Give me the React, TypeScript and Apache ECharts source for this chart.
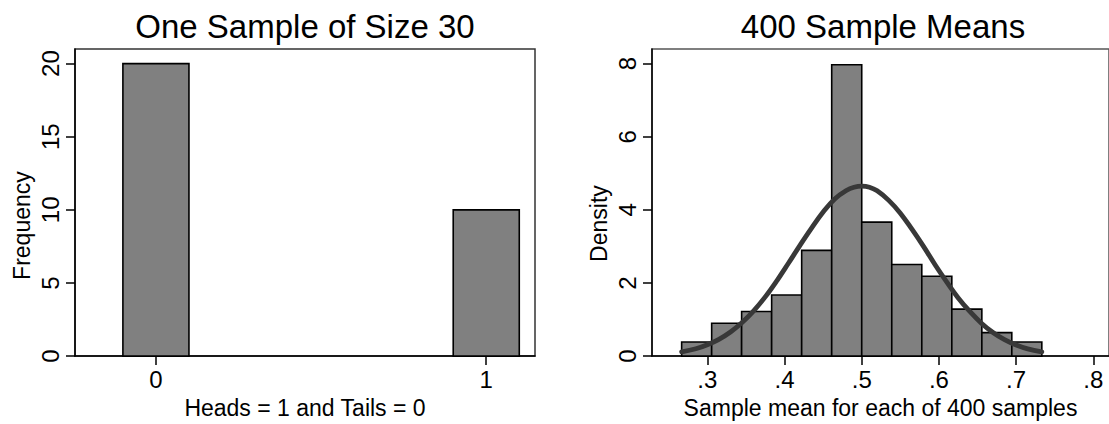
import React, { useEffect, useRef } from "react";
import * as echarts from "echarts";

// Left panel: one sample of size 30
const coinValues = [0, 1];
const coinFreq = [20, 10];
const coinHalfWidth = 0.1;
const leftYTicks = [0, 5, 10, 15, 20];
const leftXTicks = [0, 1];

// Right panel: 400 sample means (density histogram)
const binEdges = [0.2667, 0.3056, 0.3444, 0.3833, 0.4222, 0.4611, 0.5, 0.5389, 0.5778, 0.6167, 0.6556, 0.6944, 0.7333];
const binDensity = [0.386, 0.9, 1.221, 1.671, 2.893, 7.971, 3.664, 2.507, 2.186, 1.286, 0.643, 0.386];
const rightYTicks = [0, 2, 4, 6, 8];
const rightXTicks = [0.3, 0.4, 0.5, 0.6, 0.7, 0.8];

// Normal curve points
const curveX = [0.2667, 0.285, 0.3, 0.315, 0.33, 0.345, 0.36, 0.375, 0.39, 0.405, 0.42, 0.435, 0.45, 0.465, 0.48, 0.49, 0.5, 0.51, 0.52, 0.535, 0.55, 0.565, 0.58, 0.595, 0.61, 0.625, 0.64, 0.655, 0.67, 0.685, 0.7, 0.715, 0.7333];
const curveY = [0.117, 0.2, 0.312, 0.46, 0.661, 0.92, 1.24, 1.62, 2.06, 2.54, 3.03, 3.5, 3.94, 4.3, 4.53, 4.62, 4.65, 4.62, 4.52, 4.26, 3.91, 3.47, 3.0, 2.5, 2.03, 1.59, 1.22, 0.9, 0.646, 0.45, 0.303, 0.196, 0.114];

const FONT = "Liberation Sans, Arial, sans-serif";

export default function App() {
  const ref = useRef<HTMLDivElement>(null);
  useEffect(() => {
    if (!ref.current) return;
    const chart = echarts.init(ref.current, null, { renderer: "svg" });

    const leftBars = coinValues.map((v, i) => [v - coinHalfWidth, v + coinHalfWidth, coinFreq[i]]);
    const rightBars = binDensity.map((d, i) => [binEdges[i], binEdges[i + 1], d]);
    const curve = curveX.map((x, i) => [x, curveY[i]]);

    const renderRect = (params: any, api: any) => {
      const p0 = api.coord([api.value(0), api.value(2)]);
      const p1 = api.coord([api.value(1), 0]);
      return {
        type: "rect",
        shape: { x: p0[0], y: p0[1], width: p1[0] - p0[0], height: p1[1] - p0[1] },
        style: { fill: "#808080", stroke: "#000", lineWidth: 1.6 },
      };
    };

    const labelStyle = { color: "#000", fontFamily: FONT, fontSize: 24 };
    const nameStyle = { color: "#000", fontFamily: FONT, fontSize: 23 };
    const axisLine = { show: true, onZero: false, lineStyle: { color: "#000", width: 1.5 } };
    const axisTick = { show: true, length: 9, lineStyle: { color: "#000", width: 1.5 } };
    const titleStyle = { fontFamily: FONT, fontSize: 33, fontWeight: "normal", color: "#000" };

    chart.setOption({
      animation: false,
      backgroundColor: "#fff",
      title: [
        { text: "One Sample of Size 30", left: 300, top: 5, textAlign: "center", textStyle: titleStyle },
        { text: "400 Sample Means", left: 878, top: 5, textAlign: "center", textStyle: titleStyle },
      ],
      grid: [
        { left: 75, top: 49, width: 460, height: 310.5, show: true, borderColor: "#333", borderWidth: 1.5, backgroundColor: "#fff" },
        { left: 652, top: 49, right: -3, height: 310.5, show: true, borderColor: "#555", borderWidth: 1.5, backgroundColor: "#fff" },
      ],
      xAxis: [
        {
          gridIndex: 0, type: "value", min: -0.245, max: 1.1476,
          name: "Heads = 1 and Tails = 0", nameLocation: "middle", nameGap: 34, nameTextStyle: nameStyle,
          axisLine, axisTick: { ...axisTick, customValues: leftXTicks },
          axisLabel: { ...labelStyle, margin: 11, customValues: leftXTicks },
          splitLine: { show: false },
        },
        {
          gridIndex: 1, type: "value", min: 0.2283, max: 0.2283 + 460 / 777,
          name: "Sample mean for each of 400 samples", nameLocation: "middle", nameGap: 34, nameTextStyle: nameStyle,
          axisLine, axisTick: { ...axisTick, customValues: rightXTicks },
          axisLabel: { ...labelStyle, margin: 11, customValues: rightXTicks, formatter: (v: number) => String(v).replace(/^0/, "") },
          splitLine: { show: false },
        },
      ],
      yAxis: [
        {
          gridIndex: 0, type: "value", min: 0, max: 21,
          name: "Frequency", nameLocation: "middle", nameGap: 42, nameRotate: 90,
          nameTextStyle: { ...nameStyle, padding: [0, 46, 0, 0] },
          axisLine, axisTick: { ...axisTick, customValues: leftYTicks },
          axisLabel: { ...labelStyle, rotate: 90, margin: 13, customValues: leftYTicks },
          splitLine: { show: false },
        },
        {
          gridIndex: 1, type: "value", min: 0, max: 8.4,
          name: "Density", nameLocation: "middle", nameGap: 42, nameRotate: 90,
          nameTextStyle: { ...nameStyle, padding: [0, 42, 0, 0] },
          axisLine, axisTick: { ...axisTick, customValues: rightYTicks },
          axisLabel: { ...labelStyle, rotate: 90, margin: 13, customValues: rightYTicks },
          splitLine: { show: false },
        },
      ],
      series: [
        { type: "custom", xAxisIndex: 0, yAxisIndex: 0, renderItem: renderRect, encode: { x: [0, 1], y: 2 }, data: leftBars },
        { type: "custom", xAxisIndex: 1, yAxisIndex: 1, renderItem: renderRect, encode: { x: [0, 1], y: 2 }, data: rightBars },
        {
          type: "line", xAxisIndex: 1, yAxisIndex: 1, data: curve, smooth: 0.4, showSymbol: false, symbol: "none",
          lineStyle: { color: "#383838", width: 4.8, cap: "round" }, z: 5,
        },
      ],
    });
    return () => chart.dispose();
  }, []);
  return <div ref={ref} style={{ position: "fixed", left: 0, top: 0, width: 1109, height: 424, background: "#fff" }} />;
}
